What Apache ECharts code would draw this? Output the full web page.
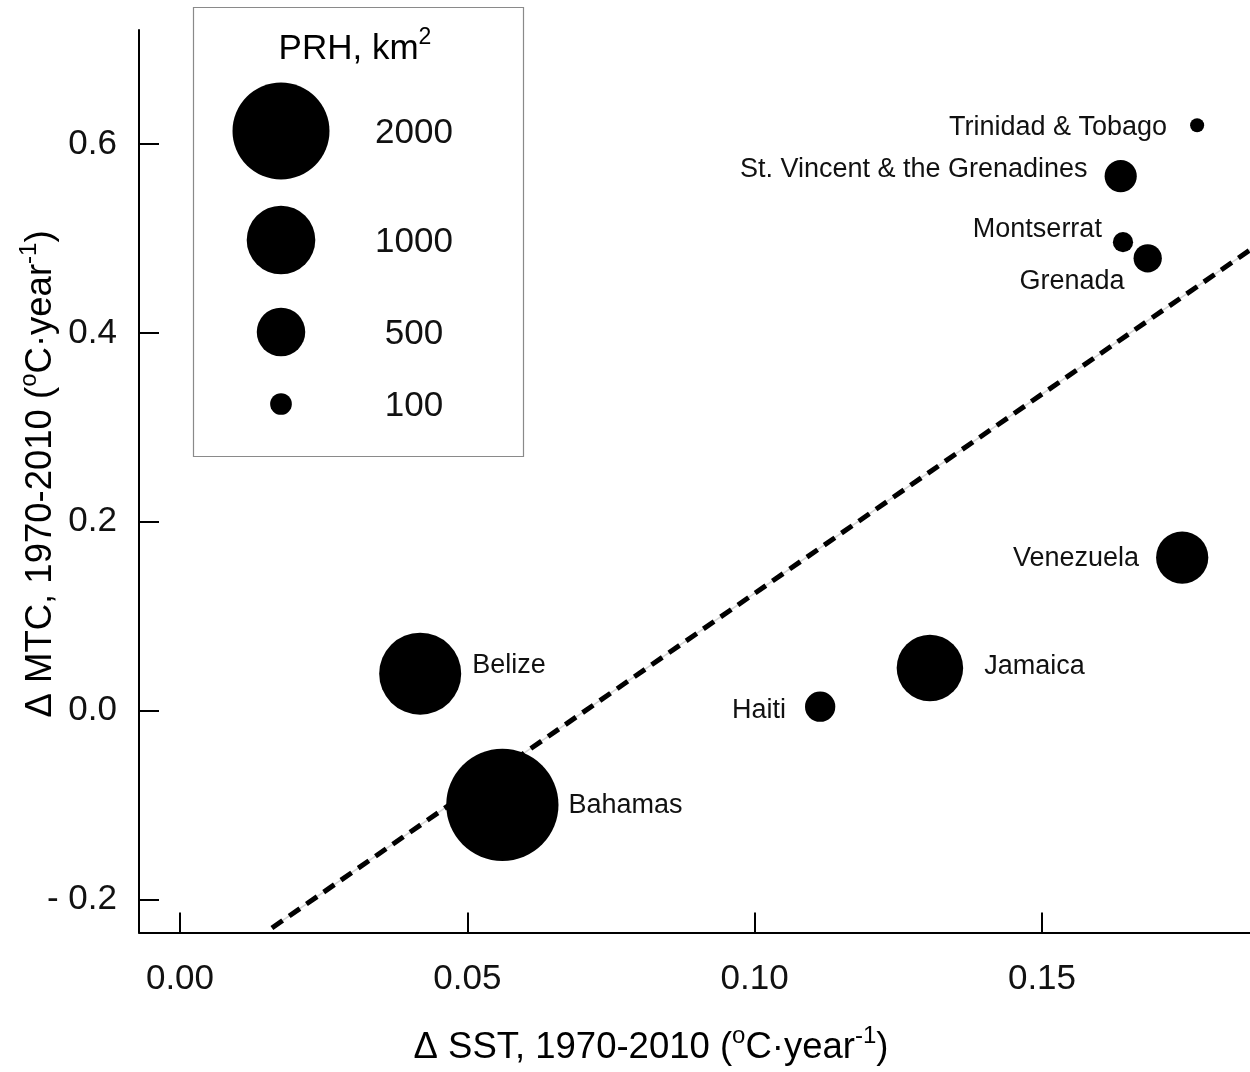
<!DOCTYPE html>
<html><head><meta charset="utf-8">
<script src="https://cdn.jsdelivr.net/npm/echarts@6/dist/echarts.min.js"></script>
<style>html,body{margin:0;padding:0;background:#fff}#c{width:1250px;height:1072px}</style>
</head><body><div id="c"></div>
<script>
// ---- data ----
const countries = ['Trinidad & Tobago','St. Vincent & the Grenadines','Montserrat','Grenada','Venezuela','Jamaica','Haiti','Belize','Bahamas'];
const sst = [0.1770,0.1637,0.1641,0.1684,0.1744,0.1305,0.1114,0.0418,0.0561];
const mtc = [0.620,0.566,0.496,0.479,0.162,0.045,0.004,0.039,-0.100];
const prh = [42,220,87,170,580,940,195,1430,2680];
const legendValues = [2000,1000,500,100];
const xTicks = [0,0.05,0.10,0.15];
const yTicks = [-0.2,0,0.2,0.4,0.6];
const fitSST = [0.016,0.1862];
const fitMTC = [-0.2304,0.4878];

// ---- layout / style ----
const FONT = 'Liberation Sans, Arial, sans-serif';
const labelLayout = [
  {position:'left', distance:23, offset:[0,2]},
  {position:'left', distance:17, offset:[0,-7]},
  {position:'left', distance:11, offset:[0,-13]},
  {position:'left', distance:9, offset:[0,23]},
  {position:'left', distance:17, offset:[0,1]},
  {position:'right', distance:21, offset:[0,-1]},
  {position:'left', distance:19, offset:[0,4]},
  {position:'right', distance:11, offset:[0,-8]},
  {position:'right', distance:10, offset:[0,1]}
];
function sizeOf(v){ return 2*48.5*Math.sqrt(v/2000); }

const points = countries.map((name,i)=>({
  name: name,
  value: [sst[i], mtc[i], prh[i]],
  label: Object.assign({show:true, formatter:'{b}', color:'#111', fontSize:27, fontFamily:FONT}, labelLayout[i])
}));

const chart = echarts.init(document.getElementById('c'), null, {renderer:'canvas'});
const richTitle = {
  b:{fontSize:36.5, fontFamily:FONT, color:'#111', lineHeight:48},
  s:{fontSize:24, fontFamily:FONT, color:'#111', lineHeight:22, verticalAlign:'top'}
};
const richLegend = {
  b:{fontSize:35, fontFamily:FONT, color:'#111', lineHeight:46},
  s:{fontSize:23, fontFamily:FONT, color:'#111', lineHeight:21, verticalAlign:'top'}
};
const legendCy = [131,240,332,404];
const graphics = [
  {type:'rect', shape:{x:193.5,y:7.5,width:330,height:449}, style:{fill:'#fff', stroke:'#8a8a8a', lineWidth:1.2}, z:1},
  {type:'text', x:355, y:49, z:2, style:{text:'{b|PRH, km}{s|2}', rich:richLegend, align:'center', verticalAlign:'middle'}},
  {type:'text', x:651, y:1048, z:2, style:{text:'{b|Δ SST, 1970-2010 (}{s|o}{b|C·year}{s|-1}{b|)}', rich:richTitle, align:'center', verticalAlign:'middle'}},
  {type:'text', x:41, y:474, rotation:Math.PI/2, z:2, style:{text:'{b|Δ MTC, 1970-2010 (}{s|o}{b|C·year}{s|-1}{b|)}', rich:richTitle, align:'center', verticalAlign:'middle'}}
];
legendValues.forEach((v,i)=>{
  graphics.push({type:'circle', z:2, shape:{cx:281, cy:legendCy[i], r:sizeOf(v)/2}, style:{fill:'#000'}});
  graphics.push({type:'text', z:2, x:414, y:legendCy[i]+2, style:{text:String(v), font:'35px '+FONT, fill:'#111', align:'center', verticalAlign:'middle'}});
});

chart.setOption({
  animation:false,
  backgroundColor:'#fff',
  grid:{left:139, top:30, right:0, bottom:139.5, containLabel:false},
  xAxis:{
    type:'value', min:-0.00713, max:0.1862,
    axisLine:{show:true, onZero:false, lineStyle:{color:'#000', width:2}},
    axisTick:{show:true, inside:true, length:20, lineStyle:{color:'#000', width:2}, customValues:xTicks},
    axisLabel:{show:true, margin:29, fontSize:35, fontFamily:FONT, color:'#111', customValues:xTicks, formatter:v=>v.toFixed(2)},
    splitLine:{show:false}
  },
  yAxis:{
    type:'value', min:-0.2352, max:0.7208,
    axisLine:{show:true, onZero:false, lineStyle:{color:'#000', width:2}},
    axisTick:{show:true, inside:true, length:20, lineStyle:{color:'#000', width:2}, customValues:yTicks},
    axisLabel:{show:true, margin:22, fontSize:35, fontFamily:FONT, color:'#111', customValues:yTicks, padding:[6,0,0,0], formatter:v=> v<0 ? '- '+Math.abs(v).toFixed(1) : v.toFixed(1)},
    splitLine:{show:false}
  },
  graphic: graphics,
  series:[
    {type:'line', data:fitSST.map((x,i)=>[x,fitMTC[i]]), symbol:'none', silent:true, z:1,
     lineStyle:{color:'#d4d4d4', width:1.5}},
    {type:'line', data:fitSST.map((x,i)=>[x,fitMTC[i]]), symbol:'none', silent:true, z:2,
     lineStyle:{color:'#000', width:5, type:[13,8], cap:'butt'}},
    {type:'scatter', data:points, z:3, symbol:'circle',
     symbolSize:(val)=>sizeOf(val[2]),
     itemStyle:{color:'#000', opacity:1},
     emphasis:{disabled:true}}
  ]
});
</script></body></html>
